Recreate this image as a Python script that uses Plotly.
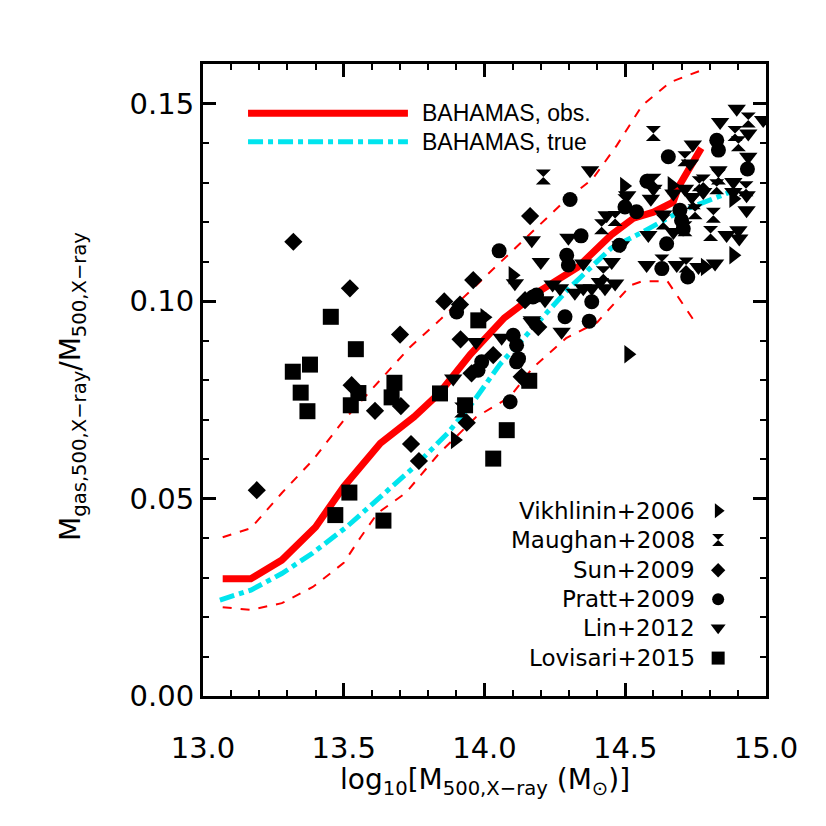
import plotly.graph_objects as go

# ---------------- data ----------------
# BAHAMAS observed-like median (red solid)
obs_x = [13.07, 13.17, 13.28, 13.40, 13.50, 13.63, 13.75, 13.84, 13.95, 14.07, 14.20, 14.33, 14.45, 14.53, 14.60, 14.67, 14.69, 14.77]
obs_y = [0.0297, 0.0297, 0.0344, 0.0428, 0.0530, 0.0640, 0.0707, 0.0767, 0.0865, 0.0957, 0.1027, 0.1085, 0.1167, 0.1210, 0.1225, 0.1250, 0.1290, 0.1387]
# BAHAMAS true (cyan dash-dot)
true_x = [13.06, 13.17, 13.28, 13.39, 13.51, 13.63, 13.75, 13.87, 13.96, 14.055, 14.17, 14.30, 14.45, 14.56, 14.69, 14.87]
true_y = [0.0243, 0.0268, 0.0310, 0.0362, 0.0428, 0.0504, 0.0580, 0.0666, 0.0745, 0.0840, 0.0928, 0.1032, 0.1134, 0.1174, 0.1225, 0.1275]
# scatter envelopes (red dashed)
up_x = [13.07, 13.17, 13.28, 13.39, 13.50, 13.63, 13.735, 13.84, 14.04, 14.17, 14.28, 14.385, 14.47, 14.56, 14.66, 14.77]
up_y = [0.0402, 0.0425, 0.0514, 0.0597, 0.0698, 0.0800, 0.0883, 0.0951, 0.1086, 0.1174, 0.1250, 0.1310, 0.1394, 0.1495, 0.1554, 0.1584]
lo_x = [13.07, 13.17, 13.28, 13.39, 13.50, 13.56, 13.62, 13.72, 13.84, 13.97, 14.09, 14.17, 14.29, 14.40, 14.52, 14.56, 14.65, 14.755]
lo_y = [0.0225, 0.0218, 0.0235, 0.0276, 0.0337, 0.0402, 0.0463, 0.0514, 0.0615, 0.0706, 0.0757, 0.0830, 0.0906, 0.0946, 0.1040, 0.1050, 0.1050, 0.0939]

# observational samples
vik_x = [14.00, 13.895, 14.10, 14.496, 14.665, 14.884, 14.884, 14.783, 14.511]
vik_y = [0.0959, 0.0648, 0.1065, 0.1291, 0.1293, 0.1259, 0.1116, 0.1086, 0.0865]

mau_x = [13.919, 14.209, 14.600, 14.712, 14.937, 14.890, 14.902, 14.831, 14.777, 14.602, 14.499, 14.742, 14.825,
         14.929, 14.464, 14.416, 14.635, 14.712, 14.748, 14.813, 14.803, 14.630, 14.716, 14.422, 14.763]
mau_y = [0.0724, 0.1314, 0.1424, 0.1360, 0.1458, 0.1424, 0.1398, 0.1314, 0.1301, 0.1303, 0.1251, 0.1251, 0.1289,
         0.1284, 0.1209, 0.1188, 0.1200, 0.1183, 0.1226, 0.1217, 0.1171, 0.1099, 0.1091, 0.1069, 0.1297]

sun_x = [13.321, 13.522, 13.700, 13.857, 13.960, 13.913, 13.915, 14.031, 13.191, 13.528, 13.611, 13.703, 13.739,
         13.767, 13.937, 13.954, 14.132, 14.162, 14.144, 14.191]
sun_y = [0.1150, 0.1032, 0.0915, 0.0999, 0.1053, 0.0991, 0.0903, 0.0863, 0.0521, 0.0787, 0.0722, 0.0734, 0.0638,
         0.0595, 0.0692, 0.0817, 0.0808, 0.1215, 0.1002, 0.0934]

pra_x = [14.052, 13.901, 13.990, 13.977, 14.091, 14.114, 14.172, 14.304, 14.653, 14.825, 14.831, 14.934, 14.577,
         14.499, 14.540, 14.479, 14.694, 14.700, 14.706, 14.647, 14.630, 14.722, 14.343, 14.292, 14.298, 14.185,
         14.381, 14.286, 14.372, 14.114, 14.102, 14.121]
pra_y = [0.1127, 0.0972, 0.0846, 0.0825, 0.0745, 0.0846, 0.1010, 0.1257, 0.1365, 0.1407, 0.1382, 0.1334, 0.1303,
         0.1238, 0.1226, 0.1141, 0.1230, 0.1204, 0.1183, 0.1145, 0.1082, 0.1061, 0.1165, 0.1116, 0.1091, 0.1015,
         0.0998, 0.0960, 0.0949, 0.0888, 0.0913, 0.0854]

lin_x = [13.970, 14.061, 13.889, 14.168, 14.108, 14.168, 14.375, 14.740, 14.730, 14.837, 14.896, 14.990, 14.937,
         14.937, 14.831, 14.600, 14.507, 14.712, 14.591, 14.671, 14.736, 14.777, 14.884, 14.884, 14.931, 14.931,
         14.434, 14.484, 14.582, 14.635, 14.671, 14.860, 14.902, 14.905, 14.576, 14.683, 14.760, 14.819, 14.200,
         14.298, 14.351, 14.242, 14.268, 14.215, 14.321, 14.351, 14.381, 14.410, 14.428, 14.464, 14.452, 14.274, 14.168]
lin_y = [0.0896, 0.0907, 0.0804, 0.1154, 0.1045, 0.0951, 0.1331, 0.1396, 0.1348, 0.1453, 0.1487, 0.1458, 0.1424,
         0.1365, 0.1331, 0.1284, 0.1268, 0.1284, 0.1259, 0.1272, 0.1263, 0.1276, 0.1301, 0.1276, 0.1268, 0.1230,
         0.1217, 0.1141, 0.1167, 0.1219, 0.1175, 0.1167, 0.1179, 0.1158, 0.1091, 0.1091, 0.1086, 0.1095, 0.1099,
         0.1160, 0.1095, 0.1042, 0.1032, 0.1002, 0.1021, 0.1032, 0.1032, 0.1048, 0.1032, 0.1044, 0.1099, 0.0922, 0.0947]

lov_x = [13.454, 13.543, 13.380, 13.319, 13.978, 13.347, 13.371, 13.552, 13.525, 13.680, 13.670, 13.842, 13.931,
         14.079, 14.031, 13.520, 13.470, 13.641, 14.159]
lov_y = [0.0960, 0.0878, 0.0839, 0.0821, 0.0951, 0.0768, 0.0721, 0.0767, 0.0736, 0.0793, 0.0756, 0.0766, 0.0736,
         0.0673, 0.0601, 0.0515, 0.0458, 0.0444, 0.0798]

samples = ["Vikhlinin+2006", "Maughan+2008", "Sun+2009", "Pratt+2009", "Lin+2012", "Lovisari+2015"]
symbols = ["triangle-right", "hourglass", "diamond", "circle", "triangle-down", "square"]
sizes = [16, 15, 14, 15, 16, 16]
sample_x = [vik_x, mau_x, sun_x, pra_x, lin_x, lov_x]
sample_y = [vik_y, mau_y, sun_y, pra_y, lin_y, lov_y]

x_ticks = [13.0, 13.5, 14.0, 14.5, 15.0]
y_ticks = [0.0, 0.05, 0.10, 0.15]

FONT = "DejaVu Sans"

fig = go.Figure()

for xs, ys in [(up_x, up_y), (lo_x, lo_y)]:
    fig.add_trace(go.Scatter(x=xs, y=ys, mode="lines",
                             line=dict(color="#ff0000", width=2, dash="dash"), showlegend=False))

fig.add_trace(go.Scatter(x=true_x, y=true_y, mode="lines",
                         line=dict(color="#00e5ee", width=5, dash="dashdot"), showlegend=False))
fig.add_trace(go.Scatter(x=obs_x, y=obs_y, mode="lines",
                         line=dict(color="#ff0000", width=7), showlegend=False))

for name, sym, sz, xs, ys in zip(samples, symbols, sizes, sample_x, sample_y):
    fig.add_trace(go.Scatter(x=xs, y=ys, mode="markers", name=name,
                             marker=dict(symbol=sym, size=sz, color="black",
                                         line=dict(width=0)), showlegend=False))

# ---- custom legends (on an overlay 0-1 axis) ----
leg_rows = [0.293, 0.247, 0.199, 0.153, 0.108, 0.060]
for name, sym, sz, yy in zip(samples, symbols, sizes, leg_rows):
    fig.add_trace(go.Scatter(x=[0.915], y=[yy], xaxis="x2", yaxis="y2", mode="markers",
                             marker=dict(symbol=sym, size=sz - 3, color="black", line=dict(width=0)),
                             showlegend=False, hoverinfo="skip"))
    fig.add_annotation(x=0.877, y=yy, xref="paper", yref="paper", text=name, showarrow=False,
                       xanchor="right", yanchor="middle", font=dict(family=FONT, size=23, color="black"))

fig.add_trace(go.Scatter(x=[0.080, 0.364], y=[0.922, 0.922], xaxis="x2", yaxis="y2", mode="lines",
                         line=dict(color="#ff0000", width=7), showlegend=False, hoverinfo="skip"))
fig.add_trace(go.Scatter(x=[0.080, 0.364], y=[0.877, 0.877], xaxis="x2", yaxis="y2", mode="lines",
                         line=dict(color="#00e5ee", width=5, dash="dashdot"), showlegend=False, hoverinfo="skip"))
fig.add_annotation(x=0.385, y=0.922, xref="paper", yref="paper", text="BAHAMAS, obs.", showarrow=False,
                   xanchor="left", yanchor="middle", font=dict(family="Liberation Sans", size=23, color="black"))
fig.add_annotation(x=0.385, y=0.877, xref="paper", yref="paper", text="BAHAMAS, true", showarrow=False,
                   xanchor="left", yanchor="middle", font=dict(family="Liberation Sans", size=23, color="black"))

# axis titles
fig.add_annotation(x=-0.268, y=0.49, xref="paper", yref="paper",
                   text="M<sub>gas,500,X\u2212ray</sub>/M<sub>500,X\u2212ray</sub>",
                   textangle=-90, showarrow=False, font=dict(family=FONT, size=28, color="black"))
fig.add_annotation(x=0.50, y=-0.168, xref="paper", yref="paper",
                   text="log<sub>10</sub>[M<sub>500,X\u2212ray</sub> (M<sub>\u2299</sub>)]",
                   showarrow=False, font=dict(family=FONT, size=28, color="black"))

axis_common = dict(showgrid=False, zeroline=False, showline=True, linecolor="black", linewidth=3,
                   mirror="allticks", ticks="inside", ticklen=13, tickwidth=2.5, tickcolor="black",
                   automargin=False,
                   tickfont=dict(family=FONT, size=29, color="black"))

# page body adds an 8px offset; margins compensate so the frame sits at 203-766 x 64-696
fig.update_layout(
    width=826, height=826,
    paper_bgcolor="white", plot_bgcolor="white",
    margin=dict(l=195, r=68, t=56, b=138, autoexpand=False),
    xaxis=dict(range=[13.0, 15.0], tickvals=x_ticks, ticktext=[f"{v:.1f}" for v in x_ticks],
               ticklabelstandoff=24,
               minor=dict(dtick=0.1, ticks="inside", ticklen=6, tickwidth=2, tickcolor="black"),
               **axis_common),
    yaxis=dict(range=[0.0, 0.16], tickvals=y_ticks, ticktext=[f"{v:.2f}" for v in y_ticks],
               minor=dict(dtick=0.01, ticks="inside", ticklen=6, tickwidth=2, tickcolor="black"),
               **axis_common),
    xaxis2=dict(range=[0, 1], overlaying="x", visible=False),
    yaxis2=dict(range=[0, 1], overlaying="y", visible=False),
    showlegend=False,
)

fig.write_html("out.html")
